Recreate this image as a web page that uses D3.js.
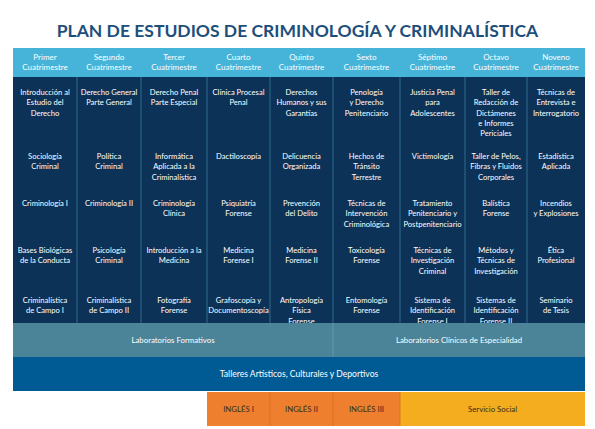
<!DOCTYPE html>
<html><head><meta charset="utf-8">
<script src="https://cdn.jsdelivr.net/npm/d3@7"></script>
<style>body{margin:0;background:#fff}</style>
</head><body><div id="chart"></div>
<script>
const title = "PLAN DE ESTUDIOS DE CRIMINOLOGÍA Y CRIMINALÍSTICA";
const semesters = ["Primer","Segundo","Tercer","Cuarto","Quinto","Sexto","Séptimo","Octavo","Noveno"];
const colEdges = [13, 77, 141, 207, 270, 333, 400, 465, 527, 585];
const courses = [
  ["Introducción al|Estudio del|Derecho","Sociología|Criminal","Criminología I","Bases Biológicas|de la Conducta","Criminalística|de Campo I"],
  ["Derecho General|Parte General","Política|Criminal","Criminología II","Psicología|Criminal","Criminalística|de Campo II"],
  ["Derecho Penal|Parte Especial","Informática|Aplicada a la|Criminalística","Criminología|Clínica","Introducción a la|Medicina","Fotografía|Forense"],
  ["Clínica Procesal|Penal","Dactiloscopía","Psiquiatría|Forense","Medicina|Forense I","Grafoscopía y|Documentoscopía"],
  ["Derechos|Humanos y sus|Garantías","Delicuencia|Organizada","Prevención|del Delito","Medicina|Forense II","Antropología|Física|Forense"],
  ["Penología|y Derecho|Penitenciario","Hechos de|Tránsito|Terrestre","Técnicas de|Intervención|Criminológica","Toxicología|Forense","Entomología|Forense"],
  ["Justicia Penal|para|Adolescentes","Victimología","Tratamiento|Penitenciario y|Postpenitenciario","Técnicas de|Investigación|Criminal","Sistema de|Identificación|Forense I"],
  ["Taller de|Redacción de|Dictámenes|e Informes|Periciales","Taller de Pelos,|Fibras y Fluidos|Corporales","Balística|Forense","Métodos y|Técnicas de|Investigación","Sistemas de|Identificación|Forense II"],
  ["Técnicas de|Entrevista e|Interrogatorio","Estadística|Aplicada","Incendios|y Explosiones","Ética|Profesional","Seminario|de Tesis"]
];
const rowTops = [88, 152, 199, 246, 296];
// bands: [label, first col, last col (exclusive), row]
const bands = [
  ["Laboratorios Formativos", 0, 5, 0, "#4b8398", "#fff"],
  ["Laboratorios Clínicos de Especialidad", 5, 9, 0, "#4b8398", "#fff"],
  ["Talleres Artísticos, Culturales y Deportivos", 0, 9, 1, "#005a93", "#fff"],
  ["INGLÉS I", 3, 4, 2, "#ee7f2e", "#3a2a1a"],
  ["INGLÉS II", 4, 5, 2, "#ee7f2e", "#3a2a1a"],
  ["INGLÉS III", 5, 6, 2, "#ee7f2e", "#3a2a1a"],
  ["Servicio Social", 6, 9, 2, "#f4ad1f", "#3a2a1a"]
];
const bandY = [323, 357, 392], bandH = 34;

const W = 595, H = 429, font = "Lato, 'Open Sans', sans-serif";
const svg = d3.select("#chart").append("svg").attr("width", W).attr("height", H)
  .attr("font-family", font);

svg.append("text").attr("x", W / 2).attr("y", 37).attr("text-anchor", "middle")
  .attr("font-size", 17.5).attr("font-weight", "bold").attr("fill", "#1d4f7c").text(title);

// header
svg.append("rect").attr("x", 13).attr("y", 48).attr("width", 572).attr("height", 29).attr("fill", "#46b4d9");
svg.append("rect").attr("x", 13).attr("y", 77).attr("width", 572).attr("height", 246).attr("fill", "#0c3257");

semesters.forEach((s, i) => {
  const cx = (colEdges[i] + colEdges[i + 1]) / 2;
  const t = svg.append("text").attr("text-anchor", "middle").attr("font-size", 8).attr("fill", "#fff");
  t.append("tspan").attr("x", cx).attr("y", 60).text(s);
  t.append("tspan").attr("x", cx).attr("y", 70).text("Cuatrimestre");
  if (i > 0) svg.append("line").attr("x1", colEdges[i]).attr("x2", colEdges[i])
    .attr("y1", 77).attr("y2", 323).attr("stroke", "#3d7aa0").attr("stroke-width", 0.8);
  courses[i].forEach((c, r) => {
    const tt = svg.append("text").attr("text-anchor", "middle").attr("font-size", 7.6).attr("fill", "#fff");
    c.split("|").forEach((ln, k) => tt.append("tspan").attr("x", cx).attr("y", rowTops[r] + 7 + k * 10.3).text(ln));
  });
});

bands.forEach(b => {
  const x0 = colEdges[b[1]], x1 = colEdges[b[2]], y = bandY[b[3]];
  svg.append("rect").attr("x", x0).attr("y", y).attr("width", x1 - x0).attr("height", bandH).attr("fill", b[4]);
  svg.append("text").attr("x", (x0 + x1) / 2).attr("y", y + bandH / 2 + 3).attr("text-anchor", "middle")
    .attr("font-size", b[3] === 1 ? 8.6 : 7.8).attr("fill", b[5]).text(b[0]);
});
// separators in bands
[[333, 323, 357, "#6aa0b3"], [270, 392, 426, "#d56f25"], [333, 392, 426, "#d56f25"], [400, 392, 426, "#d56f25"]]
  .forEach(l => svg.append("line").attr("x1", l[0]).attr("x2", l[0]).attr("y1", l[1]).attr("y2", l[2]).attr("stroke", l[3]).attr("stroke-width", 0.8));
</script></body></html>
